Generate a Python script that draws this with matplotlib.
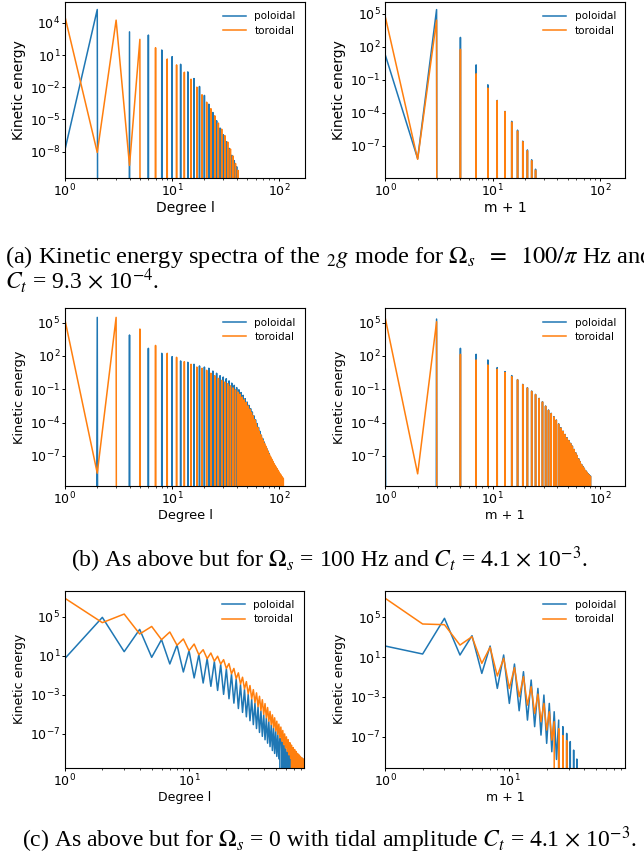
import numpy as np
import matplotlib
matplotlib.use("Agg")
import matplotlib.pyplot as plt

# ---------------- data (log10 of kinetic energy, None = exactly zero) ----------------
# (a) left: degree l = 1..42 ; odd / even entries
pol_a_odd = [-7.8, None, None, None, None, None, None, None, None, None, None,
             None, None, None, None, None, None, None, None, None, None]
pol_a_even = [5.24, 3.16, 2.86, 1.47, 0.85, 0.14, -0.57, -1.19, -1.93, -2.76, -3.58,
              -4.35, -5.12, -5.8, -6.42, -7.07, -7.69, -8.34, -8.83, -9.4, None]
tor_a_odd = [4.56, 4.25, 2.46, 1.68, 0.63, 0.08, -0.6, -1.25, -1.99, -2.7, -3.39,
             -4.0, -4.66, -5.34, -5.9, -6.5, -7.1, -7.75, -8.4, -9.1, -9.73]
tor_a_even = [-8.07, -9.28, None, None, None, None, None, None, None, None, None,
              None, None, None, None, None, None, None, None, None, None]

# (a) right: m + 1 = 1..26
pol_ar_odd = [1.23, 5.36, 2.83, 0.33, -1.48, -2.9, -3.9, -4.8, -5.6, -6.6, -7.4, -8.3, -9.15]
pol_ar_even = [-8.19, None, None, None, None, None, None, None, None, None, None, None, None]
tor_ar_odd = [4.7, 4.4, 1.75, -0.48, -1.78, -2.92, -3.92, -4.88, -5.68, -6.65, -7.48, -8.38, -9.25]
tor_ar_even = [-8.25, None, None, None, None, None, None, None, None, None, None, None, None]

# (b) left: degree l = 1..110
pol_b_odd = [None] * 55
pol_b_even = [5.48, 3.89, 2.69, 2.24, 1.94, 1.55, 1.43, 1.25, 1.10, 1.00,
              0.89, 0.64, 0.44, 0.22, 0.10, -0.05, -0.25, -0.45, -0.65, -0.85,
              -1.05, -1.30, -1.55, -1.85, -2.15, -2.45, -2.75, -3.05, -3.40, -3.75,
              -4.10, -4.45, -4.80, -5.15, -5.45, -5.75, -6.05, -6.30, -6.55, -6.80,
              -7.05, -7.25, -7.45, -7.65, -7.85, -8.00, -8.15, -8.30, -8.45, -8.60,
              -8.70, -8.85, -8.95, -9.05, None]
tor_b_odd = [5.24, 5.48, 4.43, 2.95, 2.24, 1.88, 1.49, 1.25, 1.00, 0.89,
             0.71, 0.44, 0.22, -0.02, -0.20, -0.35, -0.50, -0.70, -0.88, -1.05,
             -1.25, -1.45, -1.70, -1.95, -2.20, -2.50, -2.80, -3.10, -3.40, -3.75,
             -4.10, -4.45, -4.80, -5.10, -5.40, -5.65, -5.90, -6.15, -6.40, -6.65,
             -6.90, -7.10, -7.30, -7.50, -7.70, -7.85, -8.00, -8.15, -8.30, -8.45,
             -8.60, -8.70, -8.85, -8.95, -9.05]
tor_b_even = [-8.57] + [None] * 54

# (b) right: m + 1 = 1..82
pol_br_odd = [0.8, 5.33, 2.69, 2.15, 1.64, 0.95, 0.59, 0.23, -0.13, -0.56,
              -0.86, -1.16, -1.46, -1.82, -2.12, -2.51, -2.87, -3.17, -3.47, -3.77,
              -4.12, -4.47, -4.77, -5.07, -5.37, -5.62, -5.87, -6.12, -6.42, -6.72,
              -6.97, -7.27, -7.52, -7.77, -7.97, -8.12, -8.32, -8.47, -8.62, -8.72, -8.82]
pol_br_even = [None] * 41
tor_br_odd = [5.39, 5.09, 2.15, 1.64, 1.19, 0.80, 0.50, 0.14, -0.16, -0.59,
              -0.89, -1.19, -1.49, -1.85, -2.15, -2.54, -2.90, -3.20, -3.50, -3.80,
              -4.15, -4.50, -4.80, -5.10, -5.40, -5.65, -5.90, -6.15, -6.45, -6.75,
              -7.00, -7.30, -7.55, -7.80, -8.00, -8.15, -8.35, -8.50, -8.65, -8.75, -8.85]
tor_br_even = [-8.63] + [None] * 40

# (c) left: degree l = 1..85
pol_c_odd = [0.73, 1.42, 0.84, 0.16, -0.66, -1.27, -1.79, -2.13, -2.55, -2.95,
             -3.4, -3.85, -4.4, -4.8, -5.25, -5.65, -6.05, -6.45, -6.85, -7.25,
             -7.6, -7.95, -8.3, -8.7, -9.0, -9.3, -9.55,
             None, None, None, None, None, None, None, None,
             None, None, None, None, None, None, None, None]
pol_c_even = [4.93, 3.7, 2.65, 2.1, 1.52, 1.11, 0.7, 0.4, 0.1, -0.35,
              -0.9, -1.4, -1.95, -2.45, -2.95, -3.45, -3.85, -4.25, -4.65, -5.05,
              -5.4, -5.75, -6.1, -6.4, -6.75, -7.1, -7.45, -7.8, -8.15, -8.5,
              -8.85, -9.2, -9.55, None, None, None, None, None, None, None, -9.5, None]
tor_c_odd = [6.88, 5.27, 4.0, 3.43, 2.72, 2.2, 1.62, 1.28, 0.95, 0.6,
             0.2, -0.3, -0.75, -1.2, -1.65, -2.05, -2.47, -2.8, -3.15, -3.5,
             -3.9, -4.3, -4.7, -5.05, -5.35, -5.7, -6.0, -6.3, -6.65, -7.0,
             -7.3, -7.6, -7.9, -8.15, -8.4, -8.6, -8.8, -9.0, -9.15, -9.3,
             -9.45, -9.55, None]
tor_c_even = [4.39, 3.23, 2.65, 2.08, 1.52, 1.11, 0.7, 0.45, 0.15, -0.3,
              -0.85, -1.35, -1.9, -2.4, -2.9, -3.4, -3.8, -4.2, -4.6, -5.0,
              -5.35, -5.7, -6.05, -6.35, -6.7, -7.05, -7.4, -7.75, -8.1, -8.45,
              -8.8, -9.15, -9.5, None, None, None, None, None, None, None, None, None]

# (c) right: m + 1 = 1..40
pol_cr_odd = [2.11, 4.9, 3.15, 2.11, 1.21, 0.3, -0.47, -1.31, -2.15, -2.82,
              -3.66, -4.5, -5.34, -6.0, -6.68, -7.5, -8.36, -9.26, None, None]
pol_cr_even = [1.31, 1.21, -0.64, -2.15, -3.66, -4.4, -5.34, -6.0, -6.85, -7.68,
               -8.52, -9.3, None, None, None, None, None, None, None, None]
tor_cr_odd = [6.91, 4.26, 3.05, 1.98, 0.87, -0.07, -0.97, -1.98, -2.72, -3.66,
              -4.5, -5.5, -6.2, -6.9, -7.4, None, None, None, None, None]
tor_cr_even = [4.33, 2.21, 0.37, -0.9, -2.15, -2.99, -3.83, -4.66, -5.5, -6.34,
               -7.35, None, None, None, None, None, None, None, None, None]

captions = [
    r"(a) Kinetic energy spectra of the ${}_2g$ mode for $\Omega_s\ \;=\ \;100/\pi$ Hz and",
    r"$C_t$ = 9.3 $\times$ 10$^{-4}$.",
    r"(b) As above but for $\Omega_s$ = 100 Hz and $C_t$ = 4.1 $\times$ 10$^{-3}$.",
    r"(c) As above but for $\Omega_s$ = 0 with tidal amplitude $C_t$ = 4.1 $\times$ 10$^{-3}$.",
]


def spectrum(odd, even):
    n = len(odd) + len(even)
    e = np.zeros(n)
    e[0::2] = [0.0 if v is None else 10.0 ** v for v in odd]
    e[1::2] = [0.0 if v is None else 10.0 ** v for v in even]
    return np.arange(1, n + 1), e


W, H = 644, 860
fig = plt.figure(figsize=(W / 100, H / 100), dpi=100)


def axes_px(x0, y0, x1, y1):
    return fig.add_axes([x0 / W, 1 - y1 / H, (x1 - x0) / W, (y1 - y0) / H])


panels = [
    ((65, 2, 305, 178), (pol_a_odd, pol_a_even), (tor_a_odd, tor_a_even), "Degree l",
     2.24, (-10.45, 5.94), [4, 1, -2, -5, -8], [0, 1, 2], 10),
    ((385.3, 2, 625.3, 178), (pol_ar_odd, pol_ar_even), (tor_ar_odd, tor_ar_even), "m + 1",
     2.233, (-9.95, 6.05), [5, 2, -1, -4, -7], [0, 1, 2], 10),
    ((65, 308.3, 305, 485.7), (pol_b_odd, pol_b_even), (tor_b_odd, tor_b_even), "Degree l",
     2.24, (-9.7, 6.3), [5, 2, -1, -4, -7], [0, 1, 2], 9.3),
    ((385.3, 308.3, 625.3, 485.7), (pol_br_odd, pol_br_even), (tor_br_odd, tor_br_even), "m + 1",
     2.233, (-9.7, 6.3), [5, 2, -1, -4, -7], [0, 1, 2], 9.3),
    ((65, 590.7, 304, 767.7), (pol_c_odd, pol_c_even), (tor_c_odd, tor_c_even), "Degree l",
     1.927, (-10.46, 7.66), [5, 1, -3, -7], [0, 1], 9),
    ((385.3, 590.7, 625.3, 767.7), (pol_cr_odd, pol_cr_even), (tor_cr_odd, tor_cr_even), "m + 1",
     1.935, (-10.13, 7.68), [5, 1, -3, -7], [0, 1], 9),
]

for rect, pol, tor, xlabel, xtop, ylim, yt, xt, lsize in panels:
    ax = axes_px(*rect)
    x, p = spectrum(*pol)
    x2, t = spectrum(*tor)
    ax.plot(x, p, color="C0", lw=1.1, label="poloidal")
    ax.plot(x2, t, color="C1", lw=1.1, label="toroidal")
    ax.set_xscale("log")
    ax.set_yscale("log")
    ax.set_xlim(1, 10 ** xtop)
    ax.set_ylim(10 ** ylim[0], 10 ** ylim[1])
    ax.set_yticks([10.0 ** k for k in yt])
    ax.set_xticks([10.0 ** k for k in xt])
    ax.tick_params(which="major", labelsize=9, length=2.2, pad=1.2, width=0.7)
    ax.tick_params(which="minor", length=1.3, width=0.5)
    for s in ax.spines.values():
        s.set_linewidth(0.8)
    ax.set_xlabel(xlabel, fontsize=lsize, labelpad=1.5)
    ax.set_ylabel("Kinetic energy", fontsize=lsize, labelpad=3)
    ax.legend(loc="upper right", frameon=False, fontsize=7.5, labelspacing=0.4,
              handlelength=2.2)

cap_kw = dict(family="Liberation Serif", math_fontfamily="stix", va="baseline")
fig.text(5 / W, 1 - 263 / H, captions[0], ha="left", fontsize=17.6, **cap_kw)
fig.text(5 / W, 1 - 289 / H, captions[1], ha="left", fontsize=17, **cap_kw)
fig.text(329 / W, 1 - 567 / H, captions[2], ha="center", fontsize=17, **cap_kw)
fig.text(329 / W, 1 - 847 / H, captions[3], ha="center", fontsize=17, **cap_kw)

fig.savefig("out.png", dpi=100)
